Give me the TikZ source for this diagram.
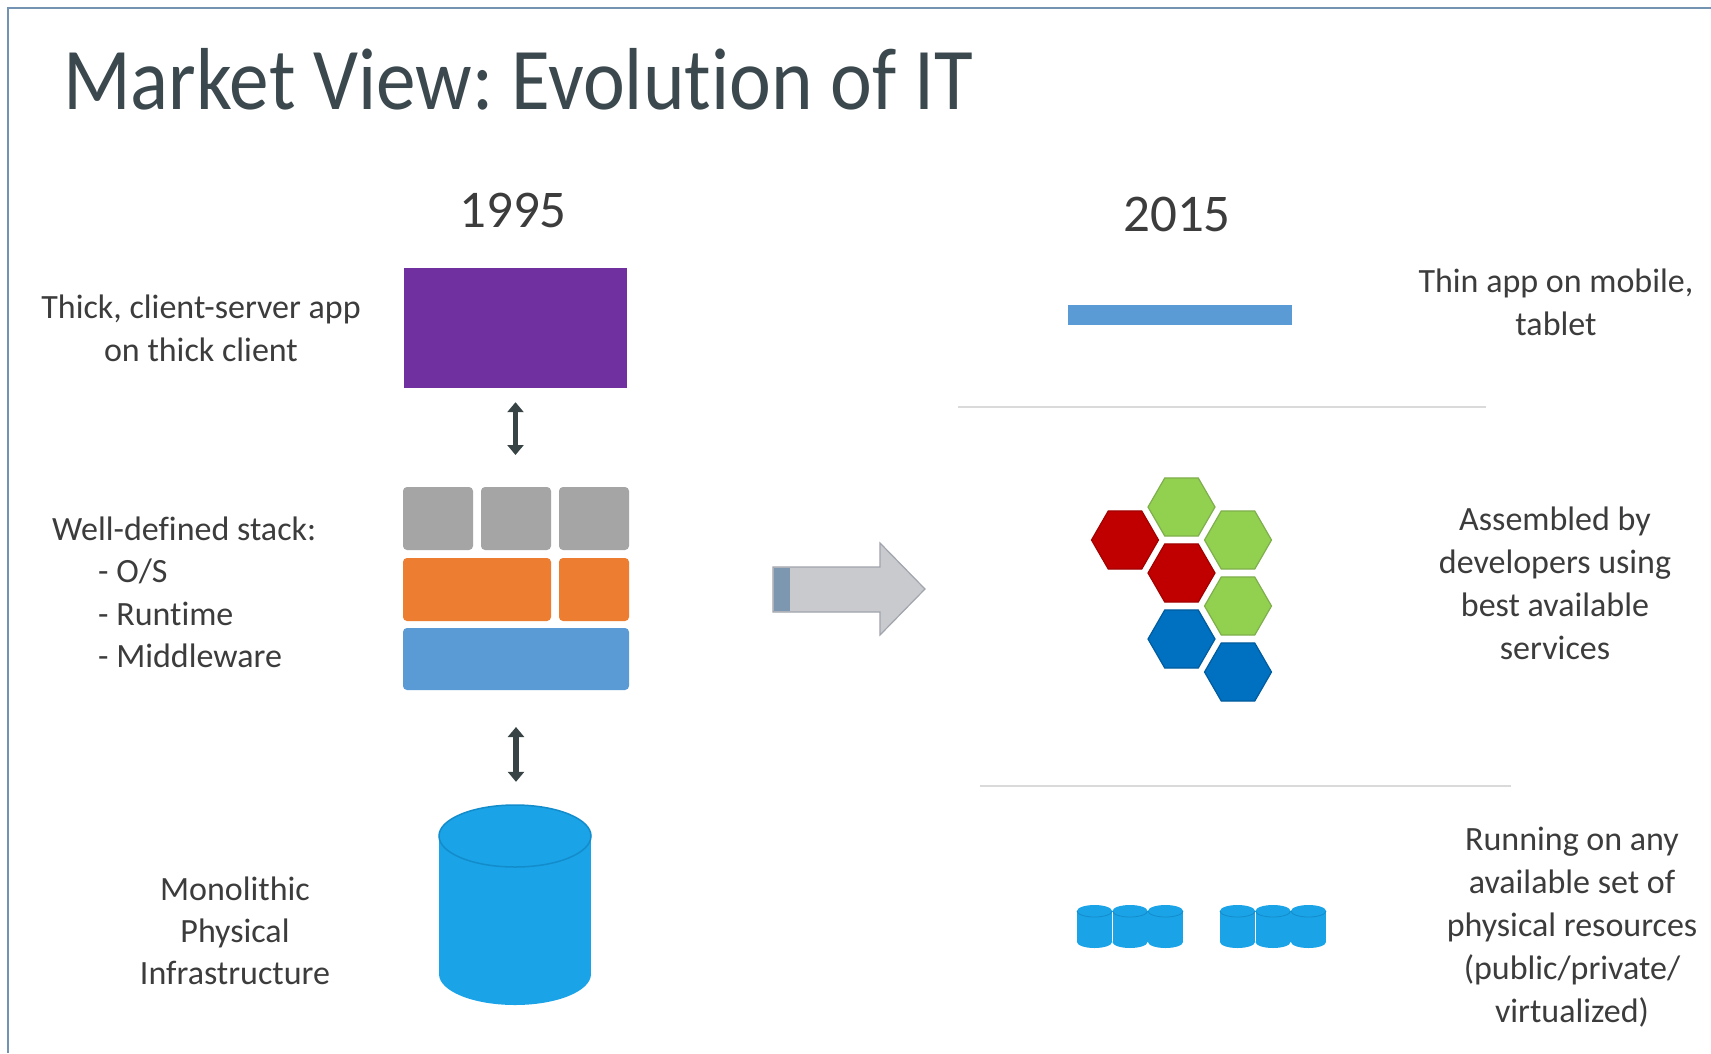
\documentclass[tikz,border=0pt]{standalone}
\usepackage{fontspec}
\setmainfont{Carlito}[Ligatures=NoCommon]
\newfontfamily\titlefont{Carlito}[FakeStretch=0.9, Ligatures=NoCommon]
\usetikzlibrary{arrows.meta,shapes.geometric}
\frenchspacing

\definecolor{frameblue}{HTML}{7393B3}
\definecolor{titlegray}{HTML}{3B484D}
\definecolor{textgray}{HTML}{3C3C3C}
\definecolor{apppurple}{HTML}{7030A0}
\definecolor{stackgray}{HTML}{A5A5A5}
\definecolor{stackorange}{HTML}{ED7D31}
\definecolor{stackblue}{HTML}{5B9BD5}
\definecolor{dbblue}{HTML}{1BA3E8}
\definecolor{dbedge}{HTML}{138CCB}
\definecolor{arrowdark}{HTML}{384345}
\definecolor{rulegray}{HTML}{DADADA}
\definecolor{hexgreen}{HTML}{92D050}
\definecolor{hexgreenedge}{HTML}{7FAF4C}
\definecolor{hexred}{HTML}{C00000}
\definecolor{hexrededge}{HTML}{A30000}
\definecolor{hexblue}{HTML}{0070C0}
\definecolor{hexblueedge}{HTML}{005C9E}
\definecolor{bigarrowfill}{HTML}{C9CACE}
\definecolor{bigarrowedge}{HTML}{A0A4AC}
\definecolor{bigarrowtail}{HTML}{7D97B1}

\begin{document}
\begin{tikzpicture}[x=1pt,y=-1pt,
  label/.style={font=\fontsize{34}{43}\selectfont, text=textgray, inner sep=0pt, align=center},
  yearlabel/.style={font=\fontsize{53}{60}\selectfont, text=textgray, inner sep=0pt},
  block/.style={inner sep=0pt, outer sep=0pt, rounded corners=4pt},
  hexcell/.style={regular polygon, regular polygon sides=6, minimum size=67pt,
                  inner sep=0pt, line width=1.2pt},
  dblarrow/.style={draw=arrowdark, line width=5.5pt,
                   {Triangle[width=16pt,length=10pt]}-{Triangle[width=16pt,length=10pt]}},
  rule/.style={draw=rulegray, line width=1.5pt}
]
\useasboundingbox (0,0) rectangle (1711,1053);
\fill[white] (0,0) rectangle (1711,1053);

% slide frame
\draw[frameblue, line width=2.5pt] (8,1053) -- (8,8) -- (1711,8);

% title
\node[anchor=base west, inner sep=0pt, text=titlegray,
      font=\titlefont\fontsize{88}{96}\selectfont] (title) at (63,109)
  {Market View: Evolution of IT};

% ---------- 1995 ----------
\node[yearlabel, anchor=base] (y1995) at (513,227) {1995};

\node[fill=apppurple, inner sep=0pt, minimum width=223pt, minimum height=120pt]
  (app) at (515.5,328) {};

\node[block, fill=stackgray, minimum width=70pt, minimum height=63pt] (g1) at (438,518.5) {};
\node[block, fill=stackgray, minimum width=70pt, minimum height=63pt] (g2) at (516,518.5) {};
\node[block, fill=stackgray, minimum width=70pt, minimum height=63pt] (g3) at (594,518.5) {};
\node[block, fill=stackorange, minimum width=148pt, minimum height=63pt] (o1) at (477,589.5) {};
\node[block, fill=stackorange, minimum width=70pt, minimum height=63pt] (o2) at (594,589.5) {};
\node[block, fill=stackblue, minimum width=226pt, minimum height=62pt] (sb) at (516,659) {};

% monolithic database
\fill[dbblue] (439,836) rectangle (591,974);
\fill[dbblue] (515,974) ellipse [x radius=76, y radius=31];
\fill[dbblue] (515,836) ellipse [x radius=76, y radius=31];
\draw[dbedge, line width=1.5pt] (515,836) ellipse [x radius=76, y radius=31];
\node[inner sep=0pt, minimum width=152pt, minimum height=200pt] (db) at (515,905) {};

\draw[dblarrow, shorten <=14pt, shorten >=32pt] (app.south) -- (app.south |- g2.north);
\draw[dblarrow, shorten <=37pt, shorten >=23pt] (sb.south) -- (sb.south |- db.north);

% left labels (base anchor sits on the last line)
\node[label, anchor=base] (lblapp) at (201,361)
  {Thick, client-server app\\on thick client};
\node[label, anchor=base west, align=left, font=\fontsize{34}{42.5}\selectfont] (lblstack) at (52,667.5)
  {Well-defined stack:\\\hspace*{46pt}- O/S\\\hspace*{46pt}- Runtime\\\hspace*{46pt}- Middleware};
\node[label, anchor=base, font=\fontsize{34}{42}\selectfont] (lblinfra) at (235,984)
  {Monolithic\\Physical\\Infrastructure};

% shift arrow
\draw[fill=bigarrowfill, draw=bigarrowedge, line width=1.2pt]
  (773,567) -- (880,567) -- (880,543) -- (925,589) -- (880,635) -- (880,612) -- (773,612) -- cycle;
\fill[bigarrowtail] (773.6,567.6) rectangle (790,611.4);

% ---------- 2015 ----------
\node[yearlabel, anchor=base] (y2015) at (1177,231) {2015};

\node[fill=stackblue, inner sep=0pt, minimum width=224pt, minimum height=20pt]
  (thin) at (1180,315) {};

\draw[rule] (958,407) -- (1486,407);
\draw[rule] (980,786) -- (1511,786);

% service honeycomb
\node[hexcell, fill=hexgreen, draw=hexgreenedge] (hg1) at (1181.5,507) {};
\node[hexcell, fill=hexred,   draw=hexrededge]   (hr1) at (1125,540) {};
\node[hexcell, fill=hexgreen, draw=hexgreenedge] (hg2) at (1238,540) {};
\node[hexcell, fill=hexred,   draw=hexrededge]   (hr2) at (1181.5,573) {};
\node[hexcell, fill=hexgreen, draw=hexgreenedge] (hg3) at (1238,606) {};
\node[hexcell, fill=hexblue,  draw=hexblueedge]  (hb1) at (1181.5,639) {};
\node[hexcell, fill=hexblue,  draw=hexblueedge]  (hb2) at (1238,672) {};

% pooled small databases
\foreach \cx in {1094.5,1130,1165.5,1237.5,1273,1308.5}{
  \fill[dbblue] (\cx-17.5,911) rectangle (\cx+17.5,942);
  \fill[dbblue] (\cx,942) ellipse [x radius=17.5, y radius=6];
  \fill[dbblue] (\cx,911) ellipse [x radius=17.5, y radius=6];
  \draw[dbedge, line width=0.8pt] (\cx-17.5,911) arc [start angle=180, end angle=0, x radius=17.5, y radius=6];
}

% right labels (base anchor sits on the last line)
\node[label, anchor=base] (lblthin) at (1556,335)
  {Thin app on mobile,\\tablet};
\node[label, anchor=base] (lblsvc) at (1555,659)
  {Assembled by\\developers using\\best available\\services};
\node[label, anchor=base] (lblres) at (1572,1022)
  {Running on any\\available set of\\physical resources\\(public/private/\\virtualized)};
\end{tikzpicture}
\end{document}
